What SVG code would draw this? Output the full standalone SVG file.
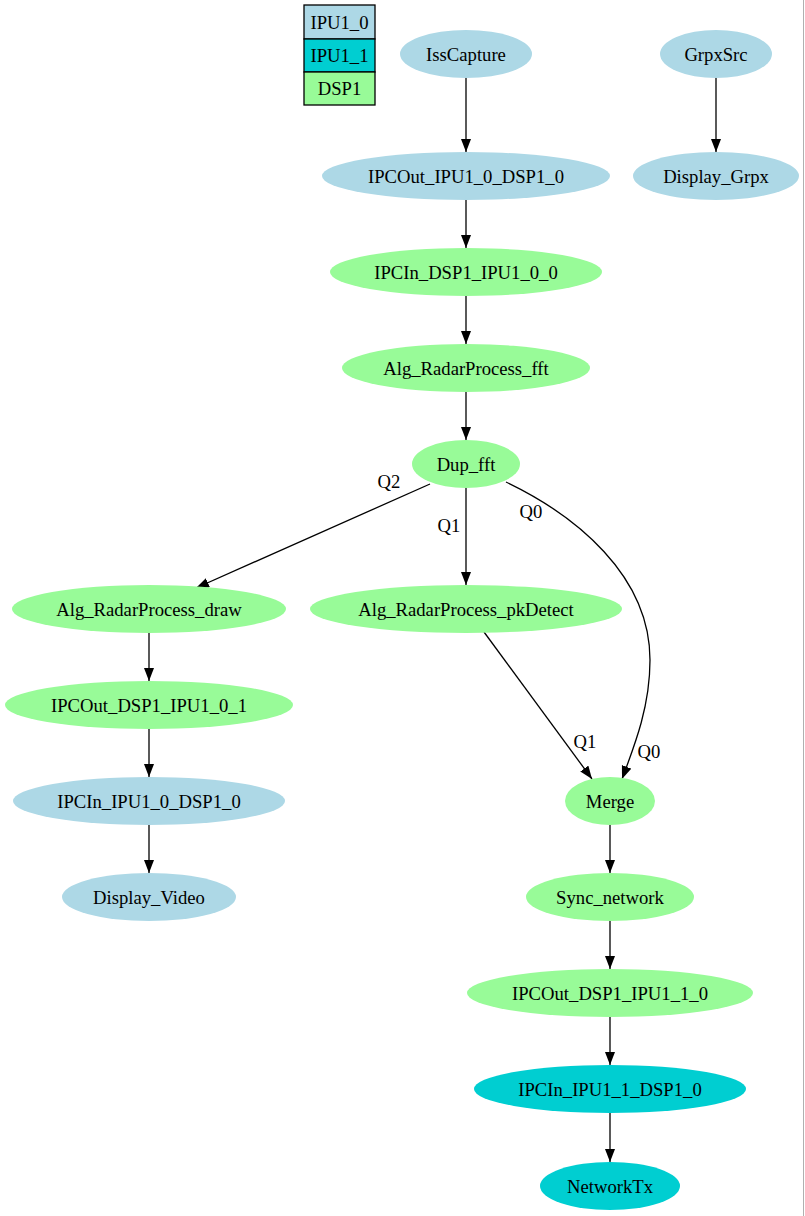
<svg xmlns="http://www.w3.org/2000/svg" width="805" height="1216" viewBox="0 0 805 1216" font-family="'Liberation Serif', 'Times New Roman', serif">
<style>
text{font-family:"Liberation Serif","Times New Roman",serif;font-size:18.67px;fill:#000;text-anchor:middle;dominant-baseline:central}
.b{fill:#add8e6}
.t{fill:#00ced1}
.g{fill:#98fb98}
.e{fill:none;stroke:#000;stroke-width:1.3}
.lg{stroke:#000;stroke-width:1.3}
</style>
<defs>
<marker id="ah" markerUnits="userSpaceOnUse" markerWidth="14" markerHeight="12" refX="13" refY="5" orient="auto">
<path d="M0,0 L13,5 L0,10 z" fill="#000"/>
</marker>
</defs>
<rect width="805" height="1216" fill="#fff"/>
<line x1="803.5" y1="0" x2="803.5" y2="1216" stroke="#b0b0b0" stroke-width="1"/>
<g id="legend">
<rect x="304" y="5" width="71" height="34" class="b lg"/>
<rect x="304" y="39" width="71" height="33" class="t lg"/>
<rect x="304" y="72" width="71" height="33" class="g lg"/>
<text x="339.5" y="22">IPU1_0</text>
<text x="339.5" y="55.5">IPU1_1</text>
<text x="339.5" y="88.5">DSP1</text>
</g>
<g id="edges">
<line class="e" x1="466" y1="78" x2="466" y2="152" marker-end="url(#ah)"/>
<line class="e" x1="716" y1="78" x2="716" y2="152" marker-end="url(#ah)"/>
<line class="e" x1="466" y1="200" x2="466" y2="248" marker-end="url(#ah)"/>
<line class="e" x1="466" y1="296" x2="466" y2="344" marker-end="url(#ah)"/>
<line class="e" x1="466" y1="392" x2="466" y2="440" marker-end="url(#ah)"/>
<line class="e" x1="430" y1="484" x2="196" y2="588" marker-end="url(#ah)"/>
<line class="e" x1="466" y1="488" x2="466" y2="585" marker-end="url(#ah)"/>
<path class="e" d="M506,482 C575,515 650,575 650,660 C650,705 636,742 622,779" marker-end="url(#ah)"/>
<line class="e" x1="484" y1="632" x2="592" y2="779" marker-end="url(#ah)"/>
<line class="e" x1="149" y1="633" x2="149" y2="681" marker-end="url(#ah)"/>
<line class="e" x1="149" y1="729" x2="149" y2="777" marker-end="url(#ah)"/>
<line class="e" x1="149" y1="825" x2="149" y2="873" marker-end="url(#ah)"/>
<line class="e" x1="610" y1="825" x2="610" y2="873" marker-end="url(#ah)"/>
<line class="e" x1="610" y1="921" x2="610" y2="969" marker-end="url(#ah)"/>
<line class="e" x1="610" y1="1017" x2="610" y2="1065" marker-end="url(#ah)"/>
<line class="e" x1="610" y1="1113" x2="610" y2="1162" marker-end="url(#ah)"/>
<text x="389" y="481">Q2</text>
<text x="449" y="525">Q1</text>
<text x="531" y="511">Q0</text>
<text x="585" y="741">Q1</text>
<text x="649" y="751">Q0</text>
</g>
<g id="IssCapture"><ellipse cx="466" cy="54" rx="66" ry="24" class="b"/><text x="466" y="54">IssCapture</text></g>
<g id="GrpxSrc"><ellipse cx="716" cy="54" rx="56" ry="24" class="b"/><text x="716" y="54">GrpxSrc</text></g>
<g id="IPCOut_IPU1_0_DSP1_0"><ellipse cx="466" cy="176" rx="144" ry="24" class="b"/><text x="466" y="176">IPCOut_IPU1_0_DSP1_0</text></g>
<g id="Display_Grpx"><ellipse cx="716" cy="176" rx="83" ry="24" class="b"/><text x="716" y="176">Display_Grpx</text></g>
<g id="IPCIn_DSP1_IPU1_0_0"><ellipse cx="466" cy="272" rx="136" ry="24" class="g"/><text x="466" y="272">IPCIn_DSP1_IPU1_0_0</text></g>
<g id="Alg_RadarProcess_fft"><ellipse cx="466" cy="368" rx="124" ry="24" class="g"/><text x="466" y="368">Alg_RadarProcess_fft</text></g>
<g id="Dup_fft"><ellipse cx="466" cy="464" rx="54" ry="24" class="g"/><text x="466" y="464">Dup_fft</text></g>
<g id="Alg_RadarProcess_draw"><ellipse cx="149" cy="609" rx="137" ry="24" class="g"/><text x="149" y="609">Alg_RadarProcess_draw</text></g>
<g id="Alg_RadarProcess_pkDetect"><ellipse cx="466" cy="609" rx="156" ry="24" class="g"/><text x="466" y="609">Alg_RadarProcess_pkDetect</text></g>
<g id="IPCOut_DSP1_IPU1_0_1"><ellipse cx="149" cy="705" rx="144" ry="24" class="g"/><text x="149" y="705">IPCOut_DSP1_IPU1_0_1</text></g>
<g id="IPCIn_IPU1_0_DSP1_0"><ellipse cx="149" cy="801" rx="136" ry="24" class="b"/><text x="149" y="801">IPCIn_IPU1_0_DSP1_0</text></g>
<g id="Display_Video"><ellipse cx="149" cy="897" rx="87" ry="24" class="b"/><text x="149" y="897">Display_Video</text></g>
<g id="Merge"><ellipse cx="610" cy="801" rx="45" ry="24" class="g"/><text x="610" y="801">Merge</text></g>
<g id="Sync_network"><ellipse cx="610" cy="897" rx="84" ry="24" class="g"/><text x="610" y="897">Sync_network</text></g>
<g id="IPCOut_DSP1_IPU1_1_0"><ellipse cx="610" cy="993" rx="143" ry="24" class="g"/><text x="610" y="993">IPCOut_DSP1_IPU1_1_0</text></g>
<g id="IPCIn_IPU1_1_DSP1_0"><ellipse cx="610" cy="1089" rx="136" ry="24" class="t"/><text x="610" y="1089">IPCIn_IPU1_1_DSP1_0</text></g>
<g id="NetworkTx"><ellipse cx="610" cy="1186" rx="70" ry="24" class="t"/><text x="610" y="1186">NetworkTx</text></g>
</svg>
